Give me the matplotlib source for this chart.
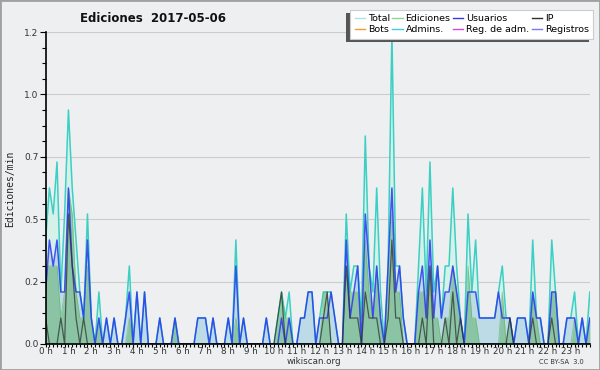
import numpy as np
import matplotlib
matplotlib.use('Agg')
import matplotlib.pyplot as plt
from matplotlib.ticker import FixedLocator, MultipleLocator

# 10-minute bins, edits per minute
total = [0.4, 0.6, 0.5, 0.7, 0.2, 0.5, 0.9, 0.6, 0.4, 0.2, 0.1, 0.5, 0.1, 0.0, 0.2, 0.0, 0.1, 0.0, 0.1, 0.0,
         0.0, 0.1, 0.3, 0.0, 0.2, 0.0, 0.2, 0.0, 0.0, 0.0, 0.1, 0.0, 0.0, 0.0, 0.1, 0.0, 0.0, 0.0, 0.0, 0.0,
         0.1, 0.1, 0.1, 0.0, 0.1, 0.0, 0.0, 0.0, 0.1, 0.0, 0.4, 0.0, 0.1, 0.0, 0.0, 0.0, 0.0, 0.0, 0.1, 0.0,
         0.0, 0.1, 0.2, 0.1, 0.2, 0.0, 0.0, 0.1, 0.1, 0.2, 0.2, 0.0, 0.1, 0.2, 0.2, 0.2, 0.1, 0.0, 0.0, 0.5,
         0.2, 0.3, 0.3, 0.1, 0.8, 0.3, 0.2, 0.6, 0.2, 0.0, 0.3, 1.2, 0.3, 0.3, 0.1, 0.0, 0.0, 0.0, 0.3, 0.6,
         0.2, 0.7, 0.2, 0.3, 0.1, 0.3, 0.3, 0.6, 0.3, 0.1, 0.0, 0.5, 0.2, 0.4, 0.1, 0.1, 0.1, 0.1, 0.1, 0.2,
         0.3, 0.1, 0.1, 0.0, 0.1, 0.1, 0.1, 0.0, 0.4, 0.1, 0.1, 0.0, 0.0, 0.4, 0.2, 0.0, 0.0, 0.1, 0.1, 0.2,
         0.0, 0.1, 0.0, 0.2]
usuarios = [0.2, 0.4, 0.3, 0.4, 0.2, 0.2, 0.6, 0.3, 0.2, 0.2, 0.1, 0.4, 0.1, 0.0, 0.1, 0.0, 0.1, 0.0, 0.1, 0.0,
            0.0, 0.1, 0.2, 0.0, 0.2, 0.0, 0.2, 0.0, 0.0, 0.0, 0.1, 0.0, 0.0, 0.0, 0.1, 0.0, 0.0, 0.0, 0.0, 0.0,
            0.1, 0.1, 0.1, 0.0, 0.1, 0.0, 0.0, 0.0, 0.1, 0.0, 0.3, 0.0, 0.1, 0.0, 0.0, 0.0, 0.0, 0.0, 0.1, 0.0,
            0.0, 0.0, 0.1, 0.0, 0.1, 0.0, 0.0, 0.1, 0.1, 0.2, 0.2, 0.0, 0.1, 0.1, 0.1, 0.2, 0.1, 0.0, 0.0, 0.4,
            0.1, 0.2, 0.3, 0.0, 0.5, 0.3, 0.1, 0.3, 0.1, 0.0, 0.3, 0.6, 0.2, 0.3, 0.1, 0.0, 0.0, 0.0, 0.2, 0.3,
            0.1, 0.4, 0.1, 0.3, 0.1, 0.2, 0.2, 0.3, 0.2, 0.1, 0.0, 0.2, 0.2, 0.2, 0.1, 0.1, 0.1, 0.1, 0.1, 0.2,
            0.1, 0.1, 0.1, 0.0, 0.1, 0.1, 0.1, 0.0, 0.2, 0.1, 0.1, 0.0, 0.0, 0.2, 0.2, 0.0, 0.0, 0.1, 0.1, 0.1,
            0.0, 0.1, 0.0, 0.1]
ediciones = [0.3, 0.3, 0.3, 0.3, 0.1, 0.2, 0.6, 0.5, 0.2, 0.1, 0.1, 0.3, 0.1, 0.0, 0.1, 0.0, 0.0, 0.0, 0.0, 0.0,
             0.0, 0.0, 0.1, 0.0, 0.0, 0.0, 0.0, 0.0, 0.0, 0.0, 0.0, 0.0, 0.0, 0.0, 0.1, 0.0, 0.0, 0.0, 0.0, 0.0,
             0.0, 0.0, 0.0, 0.0, 0.0, 0.0, 0.0, 0.0, 0.0, 0.0, 0.1, 0.0, 0.0, 0.0, 0.0, 0.0, 0.0, 0.0, 0.0, 0.0,
             0.0, 0.1, 0.2, 0.1, 0.1, 0.0, 0.0, 0.0, 0.0, 0.0, 0.0, 0.0, 0.0, 0.2, 0.2, 0.0, 0.0, 0.0, 0.0, 0.3,
             0.2, 0.2, 0.2, 0.1, 0.4, 0.2, 0.1, 0.3, 0.1, 0.0, 0.2, 0.5, 0.2, 0.2, 0.0, 0.0, 0.0, 0.0, 0.2, 0.2,
             0.2, 0.3, 0.1, 0.1, 0.0, 0.1, 0.1, 0.3, 0.2, 0.1, 0.0, 0.3, 0.1, 0.1, 0.0, 0.0, 0.0, 0.0, 0.0, 0.0,
             0.2, 0.0, 0.1, 0.0, 0.0, 0.0, 0.0, 0.0, 0.2, 0.1, 0.0, 0.0, 0.0, 0.2, 0.2, 0.0, 0.0, 0.0, 0.0, 0.1,
             0.0, 0.0, 0.0, 0.1]
ip = [0.1, 0.0, 0.0, 0.0, 0.1, 0.0, 0.5, 0.3, 0.1, 0.0, 0.1, 0.0, 0.0, 0.0, 0.0, 0.0, 0.0, 0.0, 0.0, 0.0,
      0.0, 0.0, 0.0, 0.0, 0.0, 0.0, 0.0, 0.0, 0.0, 0.0, 0.0, 0.0, 0.0, 0.0, 0.0, 0.0, 0.0, 0.0, 0.0, 0.0,
      0.0, 0.0, 0.0, 0.0, 0.0, 0.0, 0.0, 0.0, 0.0, 0.0, 0.0, 0.0, 0.0, 0.0, 0.0, 0.0, 0.0, 0.0, 0.0, 0.0,
      0.0, 0.1, 0.2, 0.0, 0.0, 0.0, 0.0, 0.0, 0.0, 0.0, 0.0, 0.0, 0.0, 0.1, 0.2, 0.0, 0.0, 0.0, 0.0, 0.3,
      0.1, 0.1, 0.1, 0.0, 0.2, 0.1, 0.1, 0.1, 0.0, 0.0, 0.1, 0.4, 0.1, 0.1, 0.0, 0.0, 0.0, 0.0, 0.0, 0.1,
      0.0, 0.3, 0.0, 0.0, 0.0, 0.1, 0.0, 0.2, 0.0, 0.1, 0.0, 0.0, 0.0, 0.0, 0.0, 0.0, 0.0, 0.0, 0.0, 0.0,
      0.0, 0.0, 0.1, 0.0, 0.0, 0.0, 0.0, 0.0, 0.1, 0.0, 0.0, 0.0, 0.0, 0.1, 0.0, 0.0, 0.0, 0.0, 0.0, 0.0,
      0.0, 0.0, 0.0, 0.0]

hour_labels = ['%d h' % h for h in range(24)]
legend_names = ['Total', 'Bots', 'Ediciones', 'Admins.', 'Usuarios', 'Reg. de adm.', 'IP', 'Registros']
legend_colors = ['#a8e6e2', '#f0a030', '#90d49a', '#40cce0', '#3838e8', '#d048e0', '#303030', '#7878f0']

BG = '#eeeff1'

fig = plt.figure(figsize=(6, 3.7), dpi=100, facecolor=BG)
fig.patches.append(plt.Rectangle((0, 0), 1, 1, transform=fig.transFigure,
                                 fill=False, edgecolor='#a0a0a0', linewidth=2))
ax = fig.add_axes([0.076, 0.0703, 0.907, 0.8432])
ax.set_facecolor(BG)

x = np.arange(len(total))
ax.fill_between(x, total, color='#d6f1ea', linewidth=0)
ax.fill_between(x, usuarios, color='#bcdbe6', linewidth=0)
ax.fill_between(x, ediciones, color='#6fb882', alpha=0.65, linewidth=0)
ax.plot(x, total, color='#3ccfc4', linewidth=1.1)
ax.plot(x, ediciones, color='#5cb860', linewidth=0.6, alpha=0.6)
ax.plot(x, usuarios, color='#2a38f0', linewidth=1.1, alpha=0.85)
ax.plot(x, ip, color='#2a2a2a', linewidth=0.9, alpha=0.7)

ax.set_xlim(0, len(total) - 1)
ax.set_ylim(0, 1.2)

yt = [0, 0.24, 0.48, 0.72, 0.96, 1.2]
ax.yaxis.set_major_locator(FixedLocator(yt))
ax.set_yticklabels(['%.1f' % v for v in yt])
ax.yaxis.set_minor_locator(MultipleLocator(0.06))
ax.set_xticks(np.arange(0, 144, 6))
ax.set_xticklabels(hour_labels)
ax.xaxis.set_minor_locator(MultipleLocator(1))

ax.tick_params(axis='y', which='major', labelsize=6.5, length=4, width=0.8, pad=1)
ax.tick_params(axis='y', which='minor', length=3, width=0.8)
ax.tick_params(axis='x', which='both', labelsize=6.3, length=2.5, width=0.8, pad=0)
for lab in ax.get_xticklabels() + ax.get_yticklabels():
    lab.set_color('#333333')

ax.grid(axis='y', which='major', color='#cccccc', linewidth=0.8)
ax.set_axisbelow(True)
for s in ['top', 'right']:
    ax.spines[s].set_visible(False)
ax.spines['left'].set_linewidth(1.2)
ax.spines['bottom'].set_linewidth(1.2)

handles = [plt.Line2D([], [], color=c, linewidth=1) for c in legend_colors]
leg = ax.legend(handles, legend_names, ncol=4, loc='upper right', bbox_to_anchor=(1.006, 1.07),
                fontsize=6.8, frameon=True, fancybox=False, shadow=False,
                handlelength=1.1, handletextpad=0.3, columnspacing=0.25, labelspacing=0.2,
                borderpad=0.45, borderaxespad=0, framealpha=1)
leg.get_frame().set_edgecolor('#cccccc')
leg.get_frame().set_linewidth(0.8)
leg.set_zorder(10)

# shadow below-left of the legend box
fig.canvas.draw()
bb = leg.get_window_extent().transformed(fig.transFigure.inverted())
dx, dy = 4 / 600, 3 / 370
shadow = plt.Rectangle((bb.x0 - dx, bb.y0 - dy), bb.width, bb.height, transform=fig.transFigure,
                       facecolor='#555555', edgecolor='none', zorder=9)
ax.add_artist(shadow)
shadow.set_clip_on(False)

fig.text(0.255, 0.951, 'Ediciones  2017-05-06', ha='center', va='center', fontsize=8.5,
         fontweight='bold', color='#111111')
fig.text(0.017, 0.49, 'Ediciones/min', rotation=90, ha='center', va='center', fontsize=7,
         family='DejaVu Sans Mono', color='#222222')
fig.text(0.523, 0.022, 'wikiscan.org', ha='center', va='center', fontsize=6.3, color='#333333')
fig.text(0.935, 0.021, 'CC BY-SA  3.0', ha='center', va='center', fontsize=4.8, color='#333333')

fig.savefig('out.png', dpi=100, facecolor=BG)
